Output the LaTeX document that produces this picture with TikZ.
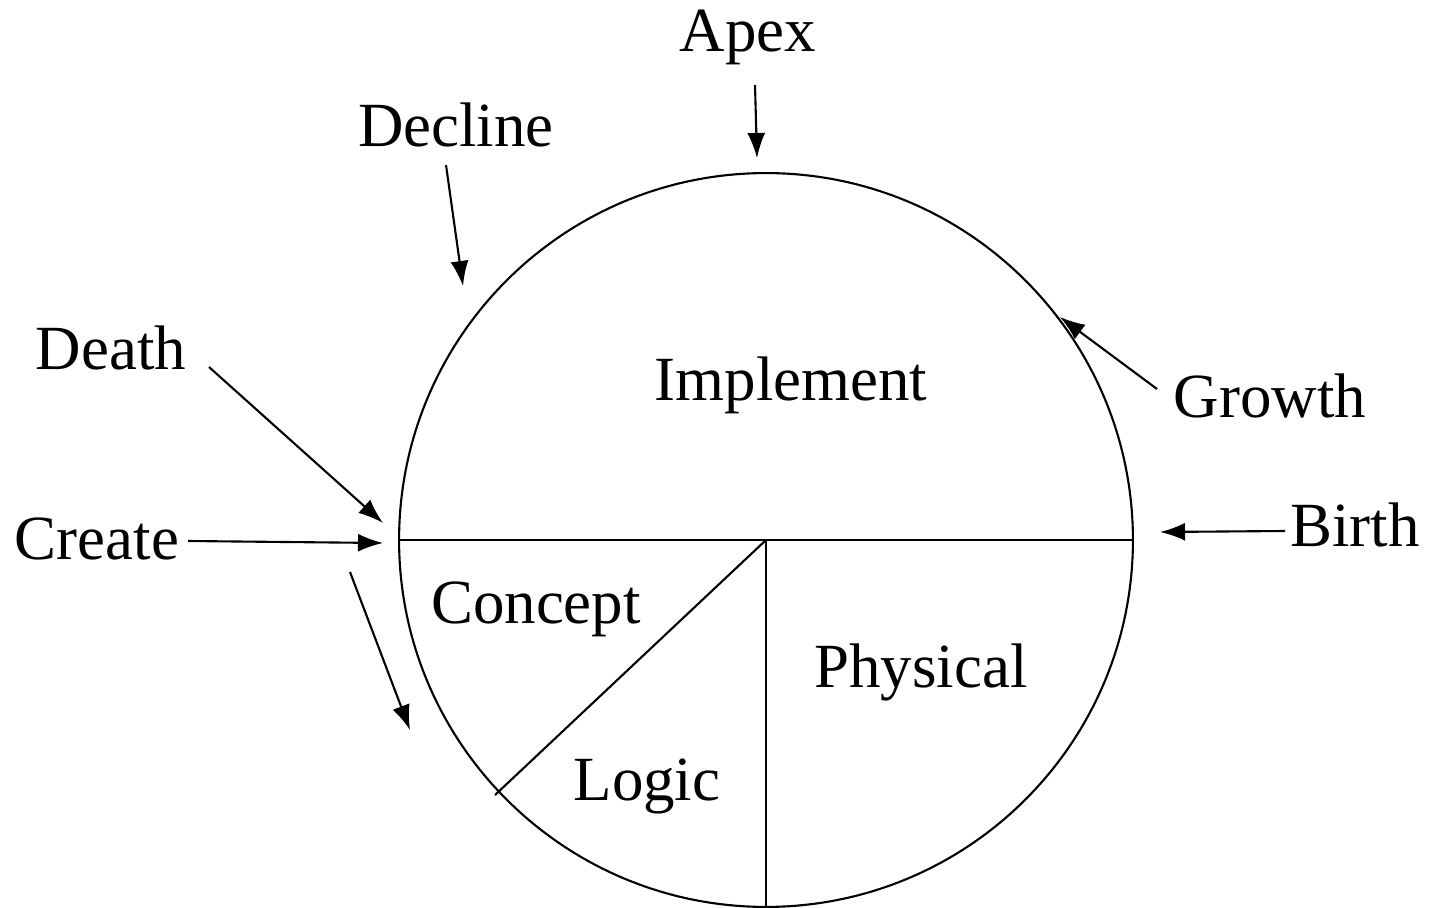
\documentclass[tikz,border=0pt]{standalone}
\usepackage{fontspec}
\setmainfont{Liberation Serif}
\usetikzlibrary{arrows.meta}
\tikzset{
	word/.style={anchor=base,inner sep=0pt,font=\fontsize{35.8}{42}\selectfont},
	pointer/.style={-{Latex[length=0.5cm,width=0.36cm]},line width=1.2pt}
}
\begin{document}
\begin{tikzpicture}[x=0.02cm,y=-0.02cm,line width=1.2pt]
				\useasboundingbox (0,0) rectangle (1432,908);
				
				\node (life) [circle,draw,inner sep=0pt,minimum size=14.68cm] at (766,540) {};
				\coordinate (mid) at (766,540);
				\coordinate (cut) at (495,795);
				\draw (life.west) -- (life.east);
				\draw (mid) -- (life.south);
				\draw (mid) -- (cut);
				
				\node (Implement) [word] at (791,400) {Implement};
				\node (Concept) [word] at (536,623) {Concept};
				\node (Physical) [word] at (921,687) {Physical};
				\node (Logic) [word] at (647,800) {Logic};
				
				\begin{scope}[every node/.style={word}]
					\node (Apex) at (748,52) {Apex};
					\node (Decline) at (456,147) {Decline};
					\node (Death) at (111,370) {Death};
					\node (Create) at (97,559) {Create};
					\node (Growth) at (1270,418) {Growth};
					\node (Birth) at (1355,546) {Birth};
				\end{scope}
				
				% arrow ends
				\coordinate (apexfrom) at (755,85);
				\coordinate (apexto) at (757,158);
				\coordinate (declinefrom) at (446,165);
				\coordinate (declineto) at (463,286);
				\coordinate (deathfrom) at (209,367);
				\coordinate (deathto) at (383,523);
				\coordinate (createfrom) at (188,541);
				\coordinate (createto) at (383,543);
				\coordinate (downfrom) at (350,572);
				\coordinate (downto) at (410,730);
				\coordinate (growthfrom) at (1157,389);
				\coordinate (growthto) at (1060,317);
				\coordinate (birthfrom) at (1285,531);
				\coordinate (birthto) at (1160,532);
				
				\draw [pointer] (apexfrom) -- (apexto);
				\draw [pointer] (declinefrom) -- (declineto);
				\draw [pointer] (deathfrom) -- (deathto);
				\draw [pointer] (createfrom) -- (createto);
				\draw [pointer] (downfrom) -- (downto);
				\draw [pointer] (growthfrom) -- (growthto);
				\draw [pointer] (birthfrom) -- (birthto);
			\end{tikzpicture}
\end{document}
